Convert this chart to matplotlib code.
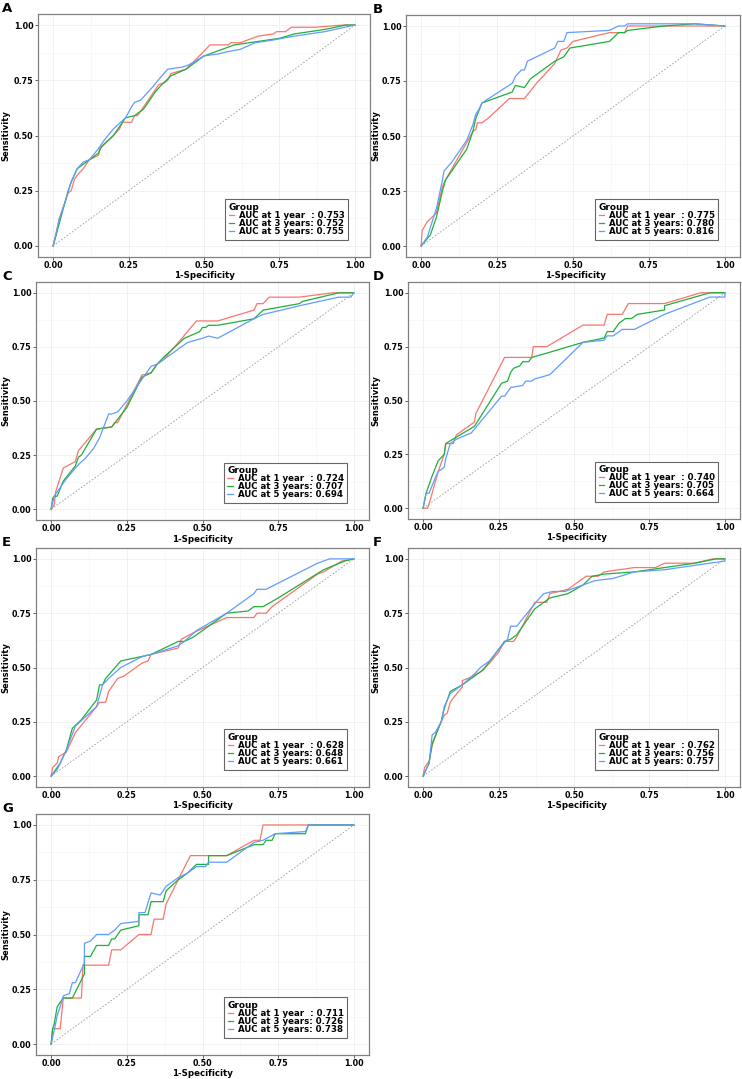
import numpy as np
import matplotlib.pyplot as plt

# ---- data: (1-specificity, sensitivity) pairs ----
A_1y = [(0,0),(0.01,0.05),(0.02,0.12),(0.04,0.2),(0.05,0.24),(0.06,0.25),(0.07,0.3),(0.08,0.32),
        (0.1,0.35),(0.11,0.37),(0.12,0.39),(0.15,0.41),(0.155,0.44),(0.17,0.46),(0.2,0.5),(0.22,0.53),
        (0.23,0.56),(0.26,0.56),(0.27,0.59),(0.28,0.59),(0.29,0.61),(0.31,0.65),(0.35,0.73),(0.37,0.74),
        (0.38,0.75),(0.39,0.78),(0.44,0.8),(0.47,0.84),(0.52,0.91),(0.58,0.91),(0.59,0.92),(0.62,0.92),
        (0.68,0.95),(0.73,0.96),(0.74,0.97),(0.77,0.97),(0.79,0.99),(0.87,0.99),(0.96,1.0),(1,1)]
A_3y = [(0,0),(0.02,0.1),(0.04,0.2),(0.05,0.25),(0.06,0.29),(0.08,0.35),(0.09,0.36),(0.12,0.39),
        (0.15,0.42),(0.16,0.45),(0.2,0.5),(0.24,0.58),(0.27,0.59),(0.3,0.62),(0.34,0.7),(0.36,0.73),
        (0.39,0.77),(0.44,0.8),(0.5,0.86),(0.54,0.88),(0.6,0.91),(0.7,0.93),(0.75,0.94),(0.8,0.96),
        (0.9,0.98),(0.97,1.0),(1,1)]
A_5y = [(0,0),(0.02,0.12),(0.04,0.2),(0.06,0.29),(0.08,0.35),(0.1,0.38),(0.12,0.39),(0.15,0.44),
        (0.17,0.48),(0.2,0.53),(0.24,0.58),(0.26,0.63),(0.27,0.65),(0.29,0.66),(0.33,0.72),(0.36,0.77),
        (0.38,0.8),(0.43,0.81),(0.45,0.82),(0.5,0.86),(0.55,0.87),(0.58,0.88),(0.62,0.89),(0.67,0.92),
        (0.72,0.93),(0.8,0.95),(0.9,0.97),(1,1)]

B_1y = [(0,0),(0.003,0.07),(0.02,0.11),(0.05,0.15),(0.07,0.27),(0.08,0.3),(0.15,0.47),(0.17,0.52),
        (0.18,0.53),(0.185,0.56),(0.2,0.56),(0.22,0.58),(0.29,0.67),(0.34,0.67),(0.38,0.74),(0.44,0.83),
        (0.46,0.89),(0.48,0.9),(0.5,0.93),(0.62,0.97),(0.67,0.97),(0.68,1.0),(1,1)]
B_3y = [(0,0),(0.03,0.05),(0.05,0.13),(0.07,0.25),(0.08,0.3),(0.15,0.44),(0.17,0.52),(0.18,0.58),
        (0.2,0.65),(0.3,0.7),(0.31,0.73),(0.34,0.72),(0.36,0.76),(0.44,0.84),(0.47,0.86),(0.49,0.9),
        (0.62,0.93),(0.65,0.97),(0.67,0.97),(0.68,0.98),(0.8,1.0),(0.9,1.01),(1,1)]
B_5y = [(0,0),(0.02,0.04),(0.05,0.17),(0.07,0.3),(0.075,0.34),(0.1,0.38),(0.15,0.48),(0.17,0.55),
        (0.18,0.6),(0.19,0.62),(0.2,0.65),(0.3,0.74),(0.31,0.77),(0.33,0.8),(0.34,0.8),(0.35,0.84),
        (0.44,0.9),(0.45,0.93),(0.47,0.93),(0.48,0.97),(0.62,0.98),(0.65,1.0),(0.67,1.0),(0.68,1.01),
        (0.9,1.01),(1,1)]

C_1y = [(0,0),(0.01,0.02),(0.015,0.08),(0.04,0.19),(0.08,0.22),(0.09,0.27),(0.15,0.37),(0.2,0.38),
        (0.21,0.4),(0.22,0.4),(0.3,0.62),(0.33,0.63),(0.35,0.67),(0.37,0.69),(0.42,0.77),(0.48,0.87),
        (0.55,0.87),(0.67,0.92),(0.68,0.95),(0.7,0.95),(0.72,0.98),(0.82,0.98),(0.93,1.0),(1,1)]
C_3y = [(0,0),(0.005,0.05),(0.01,0.06),(0.02,0.06),(0.04,0.13),(0.08,0.2),(0.09,0.24),(0.1,0.25),
        (0.15,0.37),(0.2,0.38),(0.25,0.47),(0.3,0.61),(0.33,0.63),(0.35,0.67),(0.37,0.7),(0.44,0.79),
        (0.49,0.82),(0.5,0.84),(0.51,0.84),(0.52,0.85),(0.55,0.85),(0.67,0.88),(0.7,0.92),(0.82,0.95),
        (0.83,0.96),(0.95,1.0),(1,1)]
C_5y = [(0,0),(0.01,0.06),(0.03,0.1),(0.05,0.14),(0.08,0.19),(0.1,0.22),(0.11,0.23),(0.14,0.28),
        (0.16,0.33),(0.19,0.44),(0.2,0.44),(0.22,0.45),(0.25,0.5),(0.3,0.6),(0.33,0.66),(0.35,0.67),
        (0.37,0.69),(0.45,0.77),(0.5,0.79),(0.52,0.8),(0.55,0.79),(0.67,0.88),(0.7,0.9),(0.82,0.94),
        (0.95,0.98),(0.99,0.98),(1,1)]

D_1y = [(0,0),(0.015,0.0),(0.02,0.02),(0.05,0.17),(0.07,0.25),(0.075,0.3),(0.1,0.3),(0.11,0.34),
        (0.17,0.4),(0.175,0.44),(0.27,0.7),(0.36,0.7),(0.365,0.75),(0.41,0.75),(0.53,0.85),(0.6,0.85),
        (0.61,0.9),(0.66,0.9),(0.68,0.95),(0.8,0.95),(0.92,1.0),(1,1)]
D_3y = [(0,0),(0.01,0.07),(0.03,0.15),(0.05,0.22),(0.07,0.25),(0.075,0.3),(0.11,0.33),(0.17,0.38),
        (0.26,0.58),(0.28,0.59),(0.29,0.63),(0.3,0.65),(0.32,0.66),(0.33,0.68),(0.35,0.68),(0.36,0.7),
        (0.41,0.72),(0.53,0.77),(0.6,0.79),(0.61,0.82),(0.63,0.82),(0.65,0.86),(0.67,0.88),(0.69,0.88),
        (0.71,0.9),(0.8,0.92),(0.8,0.94),(0.95,1.0),(1,1)]
D_5y = [(0,0),(0.01,0.07),(0.02,0.07),(0.04,0.14),(0.05,0.17),(0.07,0.19),(0.075,0.23),(0.09,0.3),
        (0.11,0.32),(0.16,0.35),(0.26,0.52),(0.27,0.52),(0.29,0.56),(0.33,0.57),(0.34,0.59),(0.36,0.59),
        (0.37,0.6),(0.42,0.62),(0.53,0.77),(0.6,0.78),(0.61,0.8),(0.63,0.8),(0.66,0.83),(0.7,0.83),
        (0.8,0.9),(0.95,0.98),(1,0.98),(1,1)]

E_1y = [(0,0),(0.005,0.04),(0.02,0.06),(0.025,0.09),(0.05,0.11),(0.06,0.14),(0.08,0.2),(0.15,0.32),
        (0.16,0.34),(0.18,0.34),(0.19,0.39),(0.22,0.45),(0.24,0.46),(0.3,0.52),(0.32,0.53),(0.33,0.56),
        (0.42,0.59),(0.43,0.63),(0.47,0.66),(0.58,0.73),(0.67,0.73),(0.68,0.75),(0.71,0.75),(0.73,0.78),
        (0.88,0.93),(0.9,0.94),(0.96,0.99),(1,1)]
E_3y = [(0,0),(0.01,0.02),(0.03,0.06),(0.05,0.12),(0.07,0.22),(0.1,0.26),(0.15,0.35),(0.16,0.42),
        (0.17,0.42),(0.18,0.45),(0.23,0.53),(0.33,0.56),(0.42,0.62),(0.44,0.62),(0.47,0.64),(0.58,0.75),
        (0.65,0.76),(0.67,0.78),(0.7,0.78),(0.75,0.82),(0.9,0.95),(0.97,0.99),(1,1)]
E_5y = [(0,0),(0.02,0.03),(0.05,0.12),(0.08,0.23),(0.15,0.32),(0.17,0.42),(0.19,0.45),(0.23,0.5),
        (0.3,0.55),(0.33,0.56),(0.42,0.6),(0.44,0.62),(0.48,0.67),(0.58,0.75),(0.67,0.84),(0.68,0.86),
        (0.71,0.86),(0.88,0.98),(0.92,1.0),(1,1)]

F_1y = [(0,0),(0.005,0.04),(0.02,0.07),(0.03,0.14),(0.05,0.22),(0.07,0.28),(0.08,0.29),(0.09,0.34),
        (0.1,0.36),(0.13,0.41),(0.13,0.44),(0.15,0.45),(0.19,0.48),(0.22,0.52),(0.25,0.57),(0.27,0.62),
        (0.3,0.62),(0.31,0.64),(0.37,0.8),(0.41,0.8),(0.42,0.84),(0.48,0.86),(0.54,0.92),(0.58,0.92),
        (0.6,0.94),(0.7,0.96),(0.77,0.96),(0.8,0.98),(0.9,0.98),(0.96,1.0),(1,1)]
F_3y = [(0,0),(0.02,0.06),(0.03,0.15),(0.06,0.25),(0.07,0.31),(0.09,0.39),(0.13,0.42),(0.17,0.46),
        (0.2,0.49),(0.27,0.62),(0.29,0.63),(0.31,0.65),(0.37,0.77),(0.42,0.82),(0.48,0.84),(0.53,0.88),
        (0.56,0.92),(0.6,0.93),(0.7,0.94),(0.8,0.96),(0.9,0.98),(0.97,1.0),(1,1)]
F_5y = [(0,0),(0.02,0.06),(0.03,0.19),(0.04,0.2),(0.06,0.25),(0.07,0.32),(0.09,0.38),(0.13,0.42),
        (0.17,0.47),(0.19,0.5),(0.22,0.53),(0.26,0.6),(0.28,0.63),(0.29,0.69),(0.31,0.69),(0.38,0.81),
        (0.4,0.84),(0.43,0.85),(0.47,0.85),(0.55,0.89),(0.57,0.9),(0.63,0.91),(0.7,0.94),(0.8,0.95),
        (0.9,0.97),(1,0.99),(1,1)]

G_1y = [(0,0),(0.005,0.07),(0.03,0.07),(0.035,0.14),(0.04,0.21),(0.1,0.21),(0.105,0.36),(0.19,0.36),
        (0.2,0.43),(0.23,0.43),(0.29,0.5),(0.33,0.5),(0.34,0.57),(0.37,0.57),(0.38,0.64),(0.46,0.86),
        (0.52,0.86),(0.58,0.86),(0.67,0.93),(0.69,0.93),(0.7,1.0),(1,1)]
G_3y = [(0,0),(0.005,0.07),(0.01,0.09),(0.02,0.17),(0.03,0.19),(0.04,0.21),(0.07,0.21),(0.11,0.32),
        (0.11,0.4),(0.13,0.4),(0.15,0.45),(0.19,0.45),(0.2,0.48),(0.21,0.48),(0.23,0.52),(0.29,0.54),
        (0.29,0.59),(0.32,0.59),(0.33,0.65),(0.37,0.65),(0.38,0.7),(0.42,0.75),(0.45,0.78),(0.48,0.82),
        (0.52,0.82),(0.52,0.86),(0.58,0.86),(0.67,0.91),(0.7,0.91),(0.71,0.93),(0.73,0.93),(0.74,0.96),
        (0.84,0.96),(0.85,1.0),(1,1)]
G_5y = [(0,0),(0.01,0.06),(0.02,0.13),(0.03,0.17),(0.04,0.22),(0.06,0.23),(0.07,0.28),(0.08,0.28),
        (0.11,0.37),(0.11,0.46),(0.13,0.47),(0.15,0.5),(0.19,0.5),(0.21,0.52),(0.23,0.55),(0.29,0.56),
        (0.29,0.6),(0.31,0.6),(0.33,0.69),(0.36,0.68),(0.38,0.72),(0.42,0.76),(0.45,0.78),(0.48,0.81),
        (0.51,0.81),(0.52,0.83),(0.58,0.83),(0.67,0.92),(0.7,0.93),(0.74,0.96),(0.84,0.97),(0.85,1.0),(1,1)]

auc_A = [0.753, 0.752, 0.755]
auc_B = [0.775, 0.780, 0.816]
auc_C = [0.724, 0.707, 0.694]
auc_D = [0.740, 0.705, 0.664]
auc_E = [0.628, 0.648, 0.661]
auc_F = [0.762, 0.756, 0.757]
auc_G = [0.711, 0.726, 0.738]

panels = ['A', 'B', 'C', 'D', 'E', 'F', 'G']
curves = {'A': (A_1y, A_3y, A_5y), 'B': (B_1y, B_3y, B_5y), 'C': (C_1y, C_3y, C_5y),
          'D': (D_1y, D_3y, D_5y), 'E': (E_1y, E_3y, E_5y), 'F': (F_1y, F_3y, F_5y),
          'G': (G_1y, G_3y, G_5y)}
aucs = {'A': auc_A, 'B': auc_B, 'C': auc_C, 'D': auc_D, 'E': auc_E, 'F': auc_F, 'G': auc_G}
prefixes = ['AUC at 1 year  : ', 'AUC at 3 years: ', 'AUC at 5 years: ']
colors = ['#F8766D', '#1FAF3A', '#619CFF']
ticks = [0.0, 0.25, 0.5, 0.75, 1.0]
tick_labels = ['0.00', '0.25', '0.50', '0.75', '1.00']

W, H = 742, 1079
plt.rcParams['font.family'] = 'DejaVu Sans'
plt.rcParams['font.weight'] = 'bold'
fig = plt.figure(figsize=(W / 100, H / 100), dpi=100)

# axes boxes in pixels: left, top, right, bottom
boxes = {'A': (38, 14, 370, 257), 'B': (406, 15, 740, 257),
         'C': (36, 282, 369, 520), 'D': (408, 282, 740, 519),
         'E': (36, 548, 369, 787), 'F': (408, 548, 740, 787),
         'G': (36, 814, 369, 1055)}

for p in panels:
    l, t, r, b = boxes[p]
    ax = fig.add_axes([l / W, 1 - b / H, (r - l) / W, (b - t) / H])
    ax.plot([0, 1], [0, 1], color='#9a9a9a', lw=0.6, ls=(0, (2, 2)), zorder=2)
    for pts, pre, auc, c in zip(curves[p], prefixes, aucs[p], colors):
        arr = np.array(pts)
        ax.plot(arr[:, 0], arr[:, 1], color=c, lw=0.9, label=f'{pre}{auc:.3f}', zorder=3)
    ax.set_xlim(-0.05, 1.05)
    ax.set_ylim(-0.05, 1.05)
    ax.set_xticks(ticks)
    ax.set_yticks(ticks)
    ax.set_xticklabels(tick_labels)
    ax.set_yticklabels(tick_labels)
    ax.set_xticks([0.125, 0.375, 0.625, 0.875], minor=True)
    ax.set_yticks([0.125, 0.375, 0.625, 0.875], minor=True)
    ax.grid(which='major', color='#ececec', lw=0.5)
    ax.grid(which='minor', color='#f3f3f3', lw=0.4)
    ax.set_axisbelow(True)
    ax.tick_params(which='major', length=2, width=0.6, color='#444', labelsize=5.8, pad=1.2)
    ax.tick_params(which='minor', length=0)
    for s in ax.spines.values():
        s.set_color('#808080')
        s.set_linewidth(0.9)
    ax.set_xlabel('1-Specificity', fontsize=6.2, fontweight='bold')
    ax.set_ylabel('Sensitivity', fontsize=6.0, fontweight='bold')
    # label positions in figure pixels
    xl_x = (l + r) / 2 if p in 'ACEG' else (l + r + 4) / 2
    ax.xaxis.set_label_coords(xl_x / W, 1 - (b + 14.5) / H, transform=fig.transFigure)
    yl_x = 10 if p in 'ACEG' else 380
    ax.yaxis.set_label_coords(yl_x / W, 1 - (t + b) / 2 / H, transform=fig.transFigure)
    leg = ax.legend(title='Group', loc='lower right', bbox_to_anchor=(0.935, 0.072),
                    borderaxespad=0, fontsize=6.2, title_fontsize=6.4, handlelength=0.6,
                    handletextpad=0.6, labelspacing=-0.1, borderpad=0.4, fancybox=False,
                    framealpha=1, edgecolor='#666666', alignment='left')
    leg.get_frame().set_linewidth(0.8)
    leg.get_title().set_fontweight('bold')
    fig.text(2 / W if p in 'ACEG' else 373 / W, 1 - (t - 12) / H, p,
             fontsize=9.5, fontweight='bold', va='top', ha='left')

fig.savefig('out.png', dpi=100)
